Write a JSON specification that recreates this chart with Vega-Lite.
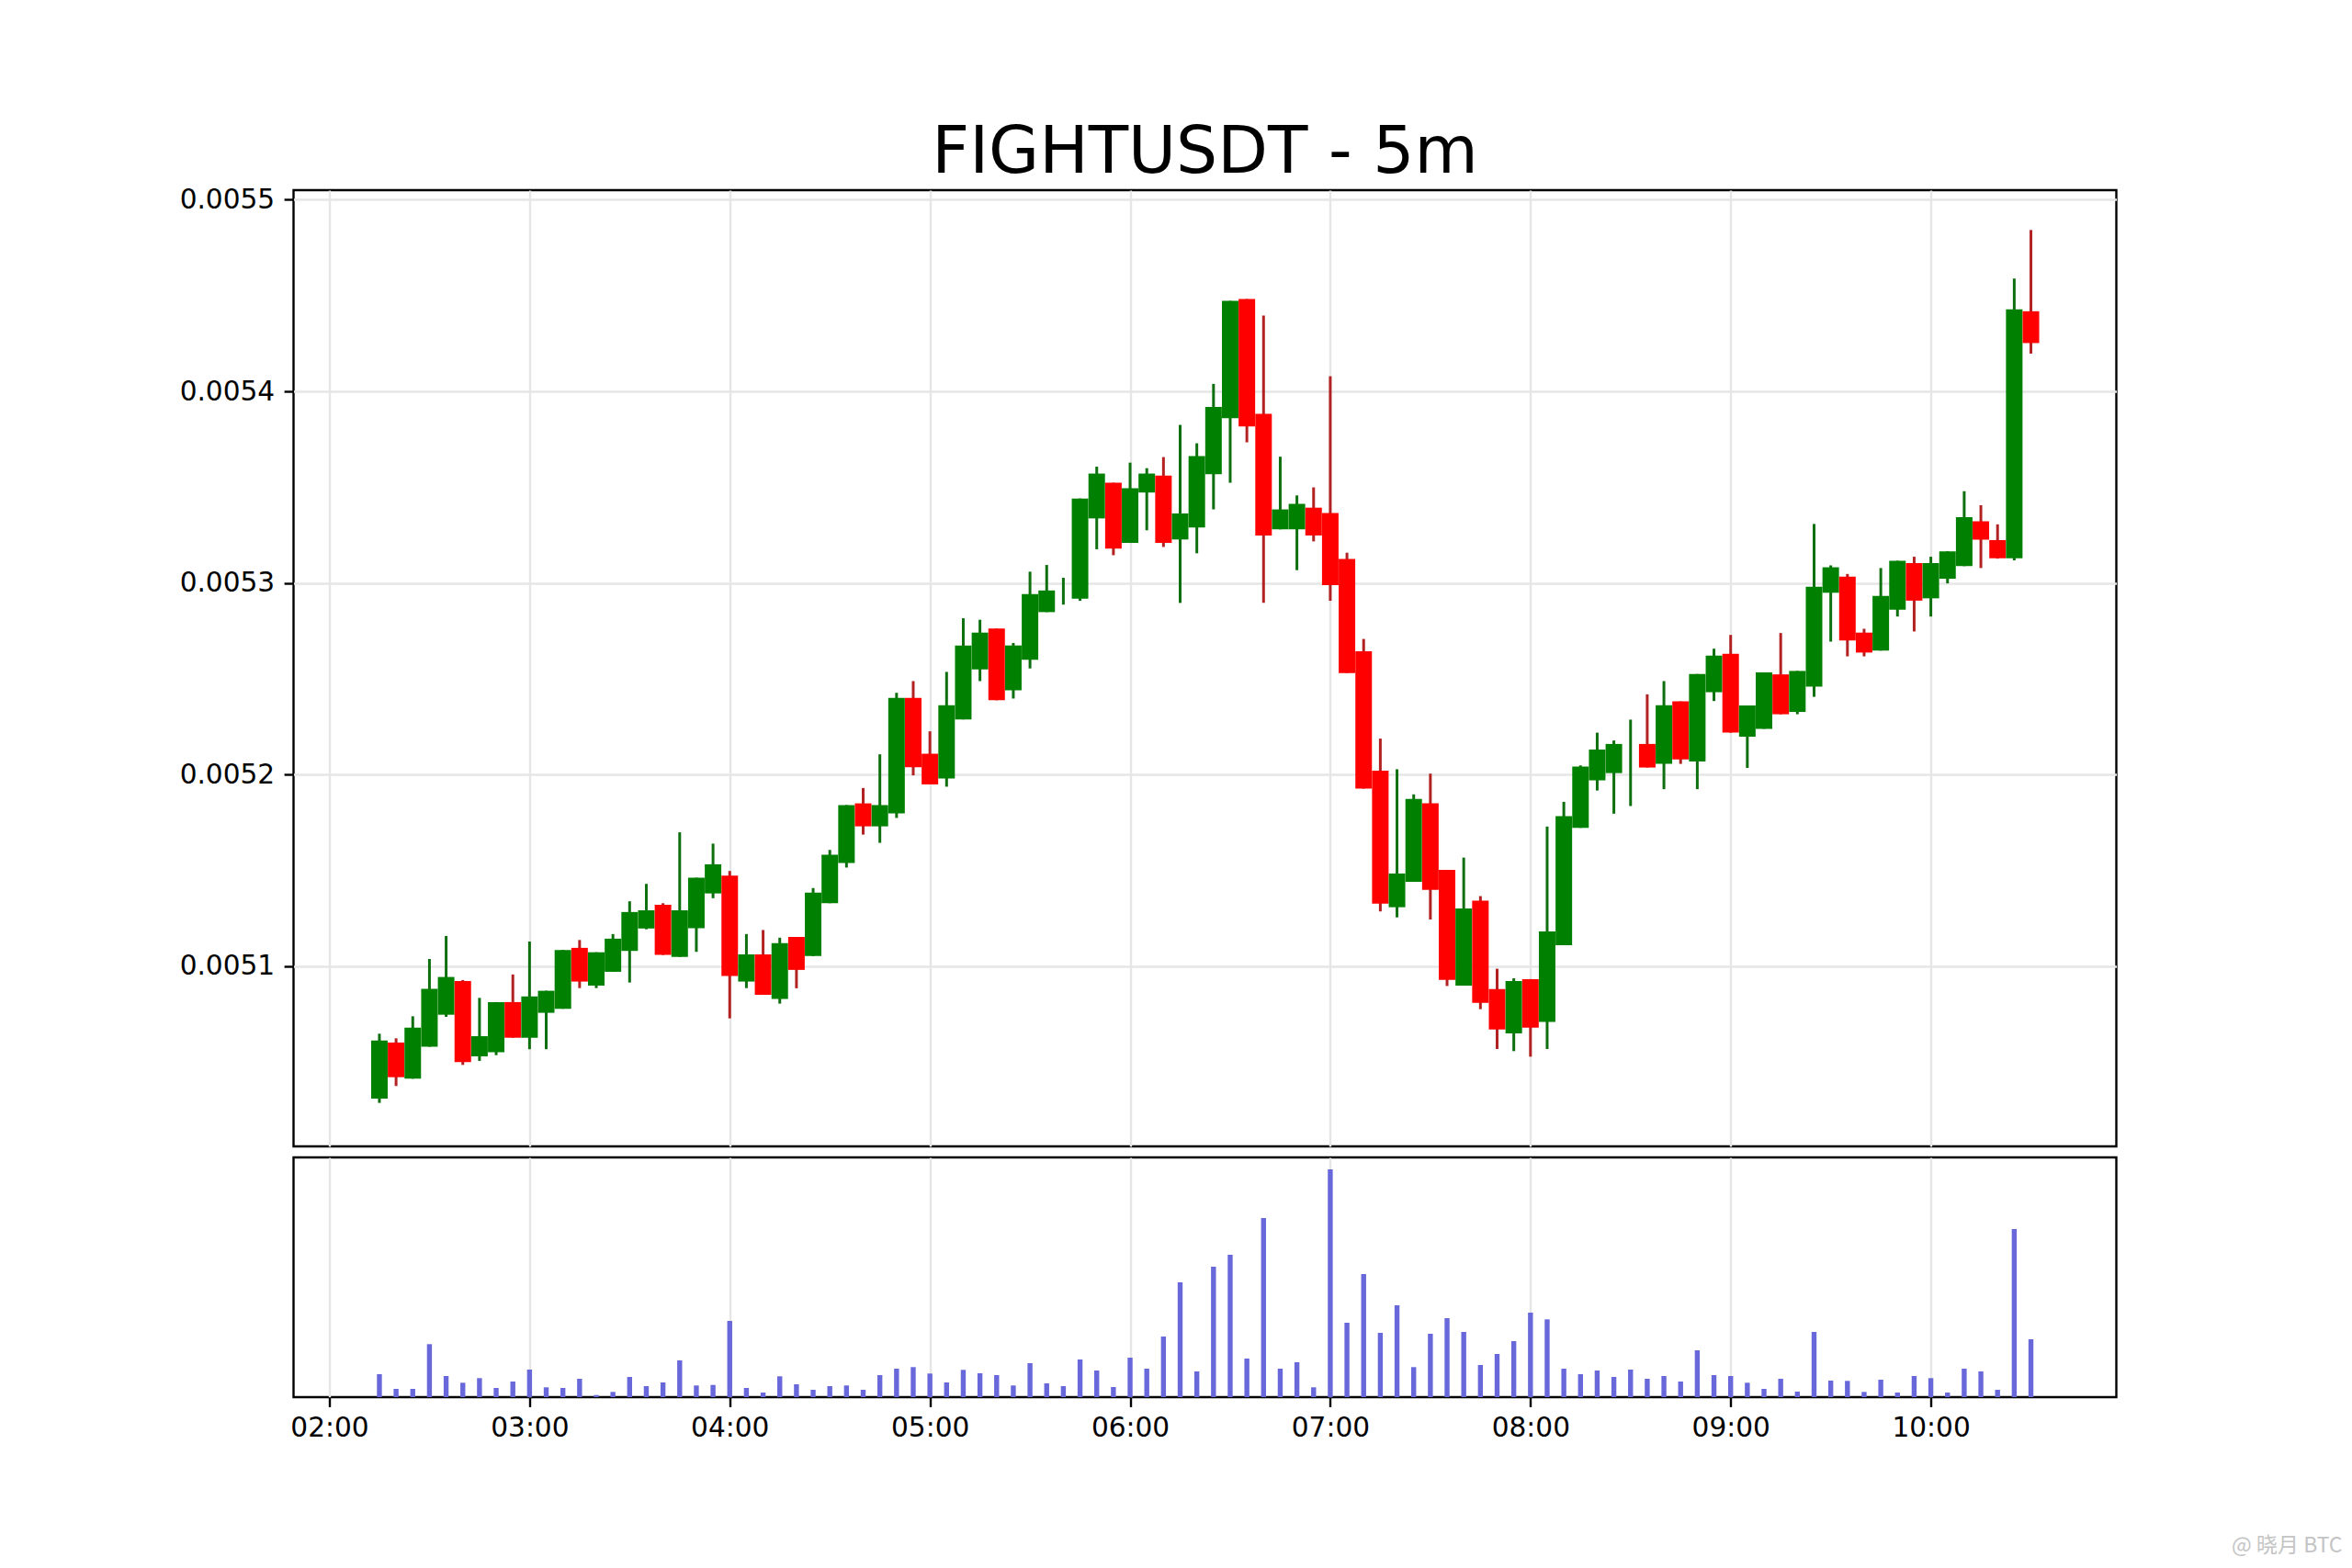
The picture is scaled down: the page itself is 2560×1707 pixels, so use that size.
{"$schema":"https://vega.github.io/schema/vega-lite/v6.json","background":"white","padding":{"left":193.5,"top":129,"right":0,"bottom":0},"config":{"view":{"stroke":"black","strokeWidth":2.4}},"spacing":8,"datasets":{"candles":[
{"time":"2024-01-01T02:15:00","open":0.0050309,"high":0.0050648,"low":0.0050287,"close":0.0050613,"volume":25,"dir":"up"},
{"time":"2024-01-01T02:20:00","open":0.0050602,"high":0.0050624,"low":0.0050375,"close":0.0050421,"volume":9,"dir":"down"},
{"time":"2024-01-01T02:25:00","open":0.0050413,"high":0.0050739,"low":0.0050413,"close":0.005068,"volume":9,"dir":"up"},
{"time":"2024-01-01T02:30:00","open":0.005058,"high":0.0051038,"low":0.005058,"close":0.0050882,"volume":57.7,"dir":"up"},
{"time":"2024-01-01T02:35:00","open":0.0050747,"high":0.0051158,"low":0.0050736,"close":0.0050944,"volume":23,"dir":"up"},
{"time":"2024-01-01T02:40:00","open":0.0050923,"high":0.0050928,"low":0.0050485,"close":0.00505,"volume":15.7,"dir":"down"},
{"time":"2024-01-01T02:45:00","open":0.005053,"high":0.0050835,"low":0.0050506,"close":0.0050635,"volume":20.7,"dir":"up"},
{"time":"2024-01-01T02:50:00","open":0.0050551,"high":0.0050813,"low":0.0050536,"close":0.0050813,"volume":10,"dir":"up"},
{"time":"2024-01-01T02:55:00","open":0.0050813,"high":0.0050957,"low":0.0050627,"close":0.0050627,"volume":17,"dir":"down"},
{"time":"2024-01-01T03:00:00","open":0.0050627,"high":0.0051129,"low":0.0050567,"close":0.0050842,"volume":30,"dir":"up"},
{"time":"2024-01-01T03:05:00","open":0.0050757,"high":0.0050872,"low":0.0050567,"close":0.0050872,"volume":10.7,"dir":"up"},
{"time":"2024-01-01T03:10:00","open":0.0050778,"high":0.0051085,"low":0.0050778,"close":0.0051085,"volume":10,"dir":"up"},
{"time":"2024-01-01T03:15:00","open":0.0051096,"high":0.0051137,"low":0.0050886,"close":0.005092,"volume":20,"dir":"down"},
{"time":"2024-01-01T03:20:00","open":0.0050899,"high":0.0051073,"low":0.0050886,"close":0.0051073,"volume":2.3,"dir":"up"},
{"time":"2024-01-01T03:25:00","open":0.0050971,"high":0.0051168,"low":0.0050971,"close":0.0051144,"volume":5.7,"dir":"up"},
{"time":"2024-01-01T03:30:00","open":0.005108,"high":0.0051339,"low":0.0050915,"close":0.0051283,"volume":22,"dir":"up"},
{"time":"2024-01-01T03:35:00","open":0.0051197,"high":0.005143,"low":0.0051193,"close":0.0051292,"volume":12,"dir":"up"},
{"time":"2024-01-01T03:40:00","open":0.0051321,"high":0.0051329,"low":0.0051059,"close":0.0051059,"volume":16,"dir":"down"},
{"time":"2024-01-01T03:45:00","open":0.0051049,"high":0.0051699,"low":0.0051049,"close":0.0051292,"volume":40,"dir":"up"},
{"time":"2024-01-01T03:50:00","open":0.0051198,"high":0.0051462,"low":0.0051075,"close":0.0051462,"volume":12.7,"dir":"up"},
{"time":"2024-01-01T03:55:00","open":0.005138,"high":0.005164,"low":0.0051355,"close":0.0051532,"volume":13.3,"dir":"up"},
{"time":"2024-01-01T04:00:00","open":0.0051473,"high":0.0051497,"low":0.0050728,"close":0.0050949,"volume":83,"dir":"down"},
{"time":"2024-01-01T04:05:00","open":0.005092,"high":0.0051168,"low":0.0050886,"close":0.0051062,"volume":10,"dir":"up"},
{"time":"2024-01-01T04:10:00","open":0.0051062,"high":0.0051189,"low":0.0050851,"close":0.0050851,"volume":5,"dir":"down"},
{"time":"2024-01-01T04:15:00","open":0.0050829,"high":0.0051149,"low":0.0050805,"close":0.0051121,"volume":22.7,"dir":"up"},
{"time":"2024-01-01T04:20:00","open":0.0051153,"high":0.0051153,"low":0.0050885,"close":0.0050981,"volume":14,"dir":"down"},
{"time":"2024-01-01T04:25:00","open":0.0051053,"high":0.0051408,"low":0.0051053,"close":0.0051384,"volume":8,"dir":"up"},
{"time":"2024-01-01T04:30:00","open":0.0051329,"high":0.0051607,"low":0.0051329,"close":0.0051582,"volume":12,"dir":"up"},
{"time":"2024-01-01T04:35:00","open":0.0051539,"high":0.0051841,"low":0.0051515,"close":0.0051841,"volume":12.7,"dir":"up"},
{"time":"2024-01-01T04:40:00","open":0.005185,"high":0.005193,"low":0.0051687,"close":0.005173,"volume":8,"dir":"down"},
{"time":"2024-01-01T04:45:00","open":0.005173,"high":0.0052106,"low":0.0051644,"close":0.0051841,"volume":24,"dir":"up"},
{"time":"2024-01-01T04:50:00","open":0.0051798,"high":0.0052427,"low":0.0051774,"close":0.00524,"volume":31,"dir":"up"},
{"time":"2024-01-01T04:55:00","open":0.00524,"high":0.0052488,"low":0.0051996,"close":0.0052039,"volume":32.7,"dir":"down"},
{"time":"2024-01-01T05:00:00","open":0.0052109,"high":0.0052226,"low":0.0051949,"close":0.0051949,"volume":25.7,"dir":"down"},
{"time":"2024-01-01T05:05:00","open":0.005198,"high":0.0052536,"low":0.0051937,"close":0.0052362,"volume":16,"dir":"up"},
{"time":"2024-01-01T05:10:00","open":0.0052288,"high":0.0052816,"low":0.0052288,"close":0.0052674,"volume":29.7,"dir":"up"},
{"time":"2024-01-01T05:15:00","open":0.0052549,"high":0.0052808,"low":0.0052488,"close":0.0052741,"volume":26,"dir":"up"},
{"time":"2024-01-01T05:20:00","open":0.0052762,"high":0.0052762,"low":0.0052388,"close":0.0052388,"volume":24,"dir":"down"},
{"time":"2024-01-01T05:25:00","open":0.005244,"high":0.0052687,"low":0.0052397,"close":0.0052674,"volume":12.7,"dir":"up"},
{"time":"2024-01-01T05:30:00","open":0.0052599,"high":0.0053059,"low":0.0052554,"close":0.0052942,"volume":37,"dir":"up"},
{"time":"2024-01-01T05:35:00","open":0.0052848,"high":0.0053094,"low":0.0052848,"close":0.0052961,"volume":15,"dir":"up"},
{"time":"2024-01-01T05:40:00","open":0.005295,"high":0.0053027,"low":0.0052887,"close":0.005295,"volume":12,"dir":"up"},
{"time":"2024-01-01T05:45:00","open":0.0052918,"high":0.0053441,"low":0.0052907,"close":0.0053441,"volume":41,"dir":"up"},
{"time":"2024-01-01T05:50:00","open":0.0053337,"high":0.0053607,"low":0.0053176,"close":0.0053571,"volume":29,"dir":"up"},
{"time":"2024-01-01T05:55:00","open":0.0053523,"high":0.0053523,"low":0.0053145,"close":0.0053179,"volume":11,"dir":"down"},
{"time":"2024-01-01T06:00:00","open":0.0053209,"high":0.0053628,"low":0.0053209,"close":0.0053494,"volume":43,"dir":"up"},
{"time":"2024-01-01T06:05:00","open":0.0053472,"high":0.0053599,"low":0.0053275,"close":0.0053571,"volume":31,"dir":"up"},
{"time":"2024-01-01T06:10:00","open":0.0053561,"high":0.0053657,"low":0.0053188,"close":0.0053209,"volume":66,"dir":"down"},
{"time":"2024-01-01T06:15:00","open":0.0053227,"high":0.0053825,"low":0.0052896,"close":0.0053363,"volume":125,"dir":"up"},
{"time":"2024-01-01T06:20:00","open":0.0053289,"high":0.0053729,"low":0.0053155,"close":0.0053662,"volume":28,"dir":"up"},
{"time":"2024-01-01T06:25:00","open":0.0053568,"high":0.0054039,"low":0.0053384,"close":0.0053919,"volume":142,"dir":"up"},
{"time":"2024-01-01T06:30:00","open":0.005386,"high":0.0054472,"low":0.0053523,"close":0.0054472,"volume":155,"dir":"up"},
{"time":"2024-01-01T06:35:00","open":0.0054482,"high":0.0054482,"low":0.0053734,"close":0.0053817,"volume":42,"dir":"down"},
{"time":"2024-01-01T06:40:00","open":0.0053883,"high":0.0054396,"low":0.0052896,"close":0.0053248,"volume":195,"dir":"down"},
{"time":"2024-01-01T06:45:00","open":0.005328,"high":0.0053659,"low":0.005328,"close":0.0053384,"volume":31,"dir":"up"},
{"time":"2024-01-01T06:50:00","open":0.005328,"high":0.0053457,"low":0.0053067,"close":0.0053413,"volume":38,"dir":"up"},
{"time":"2024-01-01T06:55:00","open":0.0053393,"high":0.0053499,"low":0.0053217,"close":0.0053248,"volume":10.7,"dir":"down"},
{"time":"2024-01-01T07:00:00","open":0.0053365,"high":0.0054079,"low":0.0052907,"close":0.0052989,"volume":248,"dir":"down"},
{"time":"2024-01-01T07:05:00","open":0.0053125,"high":0.0053158,"low":0.005253,"close":0.005253,"volume":81,"dir":"down"},
{"time":"2024-01-01T07:10:00","open":0.0052644,"high":0.0052708,"low":0.0051927,"close":0.0051927,"volume":134,"dir":"down"},
{"time":"2024-01-01T07:15:00","open":0.0052021,"high":0.0052188,"low":0.0051286,"close":0.0051327,"volume":70,"dir":"down"},
{"time":"2024-01-01T07:20:00","open":0.0051308,"high":0.0052028,"low":0.0051255,"close":0.0051484,"volume":100,"dir":"up"},
{"time":"2024-01-01T07:25:00","open":0.0051441,"high":0.0051897,"low":0.0051441,"close":0.0051873,"volume":32.7,"dir":"up"},
{"time":"2024-01-01T07:30:00","open":0.005185,"high":0.0052005,"low":0.0051244,"close":0.0051399,"volume":69,"dir":"down"},
{"time":"2024-01-01T07:35:00","open":0.0051503,"high":0.0051503,"low":0.0050897,"close":0.0050929,"volume":86,"dir":"down"},
{"time":"2024-01-01T07:40:00","open":0.0050899,"high":0.0051567,"low":0.0050899,"close":0.0051302,"volume":71,"dir":"up"},
{"time":"2024-01-01T07:45:00","open":0.0051342,"high":0.0051366,"low":0.0050776,"close":0.0050809,"volume":35,"dir":"down"},
{"time":"2024-01-01T07:50:00","open":0.0050881,"high":0.0050987,"low":0.0050568,"close":0.005067,"volume":47,"dir":"down"},
{"time":"2024-01-01T07:55:00","open":0.005065,"high":0.0050937,"low":0.0050557,"close":0.0050923,"volume":61,"dir":"up"},
{"time":"2024-01-01T08:00:00","open":0.0050933,"high":0.0050933,"low":0.0050528,"close":0.005068,"volume":92,"dir":"down"},
{"time":"2024-01-01T08:05:00","open":0.0050709,"high":0.0051729,"low":0.0050568,"close":0.0051182,"volume":84.7,"dir":"up"},
{"time":"2024-01-01T08:10:00","open":0.005111,"high":0.0051858,"low":0.005111,"close":0.0051783,"volume":31,"dir":"up"},
{"time":"2024-01-01T08:15:00","open":0.0051722,"high":0.0052048,"low":0.0051722,"close":0.0052042,"volume":25,"dir":"up"},
{"time":"2024-01-01T08:20:00","open":0.005197,"high":0.0052219,"low":0.0051917,"close":0.0052131,"volume":29,"dir":"up"},
{"time":"2024-01-01T08:25:00","open":0.0052008,"high":0.0052178,"low":0.0051796,"close":0.005216,"volume":22,"dir":"up"},
{"time":"2024-01-01T08:30:00","open":0.005206,"high":0.0052287,"low":0.0051836,"close":0.005206,"volume":30,"dir":"up"},
{"time":"2024-01-01T08:35:00","open":0.005216,"high":0.0052419,"low":0.0052037,"close":0.0052037,"volume":20,"dir":"down"},
{"time":"2024-01-01T08:40:00","open":0.0052056,"high":0.0052488,"low":0.0051924,"close":0.0052362,"volume":23,"dir":"up"},
{"time":"2024-01-01T08:45:00","open":0.0052382,"high":0.0052382,"low":0.0052056,"close":0.0052079,"volume":17,"dir":"down"},
{"time":"2024-01-01T08:50:00","open":0.0052069,"high":0.0052525,"low":0.0051924,"close":0.0052525,"volume":51,"dir":"up"},
{"time":"2024-01-01T08:55:00","open":0.005243,"high":0.0052657,"low":0.0052384,"close":0.0052621,"volume":24,"dir":"up"},
{"time":"2024-01-01T09:00:00","open":0.0052631,"high":0.0052729,"low":0.0052219,"close":0.0052219,"volume":23,"dir":"down"},
{"time":"2024-01-01T09:05:00","open":0.0052198,"high":0.0052361,"low":0.0052035,"close":0.0052361,"volume":15.7,"dir":"up"},
{"time":"2024-01-01T09:10:00","open":0.0052239,"high":0.0052533,"low":0.0052239,"close":0.0052533,"volume":9,"dir":"up"},
{"time":"2024-01-01T09:15:00","open":0.0052523,"high":0.0052739,"low":0.0052315,"close":0.0052315,"volume":20,"dir":"down"},
{"time":"2024-01-01T09:20:00","open":0.0052327,"high":0.0052541,"low":0.0052315,"close":0.0052541,"volume":6,"dir":"up"},
{"time":"2024-01-01T09:25:00","open":0.0052459,"high":0.0053308,"low":0.0052406,"close":0.005298,"volume":71,"dir":"up"},
{"time":"2024-01-01T09:30:00","open":0.0052949,"high":0.0053092,"low":0.0052694,"close":0.0053082,"volume":18,"dir":"up"},
{"time":"2024-01-01T09:35:00","open":0.0053033,"high":0.0053047,"low":0.0052617,"close":0.00527,"volume":17.7,"dir":"down"},
{"time":"2024-01-01T09:40:00","open":0.0052741,"high":0.0052761,"low":0.0052617,"close":0.0052637,"volume":5.7,"dir":"down"},
{"time":"2024-01-01T09:45:00","open":0.0052647,"high":0.0053078,"low":0.0052647,"close":0.0052933,"volume":19,"dir":"up"},
{"time":"2024-01-01T09:50:00","open":0.0052861,"high":0.0053116,"low":0.0052825,"close":0.0053116,"volume":5,"dir":"up"},
{"time":"2024-01-01T09:55:00","open":0.0053104,"high":0.0053137,"low":0.0052747,"close":0.0052908,"volume":23,"dir":"down"},
{"time":"2024-01-01T10:00:00","open":0.005292,"high":0.0053137,"low":0.0052825,"close":0.0053104,"volume":20.7,"dir":"up"},
{"time":"2024-01-01T10:05:00","open":0.0053022,"high":0.0053165,"low":0.0052998,"close":0.0053165,"volume":5,"dir":"up"},
{"time":"2024-01-01T10:10:00","open":0.0053088,"high":0.0053479,"low":0.0053088,"close":0.0053343,"volume":31,"dir":"up"},
{"time":"2024-01-01T10:15:00","open":0.0053322,"high":0.0053406,"low":0.0053078,"close":0.0053226,"volume":28,"dir":"down"},
{"time":"2024-01-01T10:20:00","open":0.0053224,"high":0.0053306,"low":0.0053127,"close":0.0053129,"volume":8,"dir":"down"},
{"time":"2024-01-01T10:25:00","open":0.0053129,"high":0.0054589,"low":0.0053118,"close":0.0054428,"volume":183,"dir":"up"},
{"time":"2024-01-01T10:30:00","open":0.0054418,"high":0.0054842,"low":0.0054197,"close":0.0054252,"volume":63,"dir":"down"}
]},"vconcat":[
{"width":1984,"height":1041,"title":{"text":"FIGHTUSDT - 5m","font":"DejaVu Sans","fontSize":71.1,"fontWeight":"normal","color":"black","anchor":"middle","offset":-0.5},"data":{"name":"candles"},
"encoding":{"x":{"field":"time","type":"temporal","title":null,"scale":{"nice":false,"padding":0,"domain":[{"year":2024,"month":1,"date":1,"hours":1,"minutes":49,"seconds":16},{"year":2024,"month":1,"date":1,"hours":10,"minutes":55,"seconds":36}]},"axis":{"tickCount":"hour","labels":false,"ticks":false,"domain":false,"grid":true,"gridColor":"#e6e6e6","gridWidth":2.4}}},
"layer":[
{"mark":{"type":"rule","strokeWidth":3},"encoding":{"y":{"field":"low","type":"quantitative","title":null,"scale":{"domain":[0.005006,0.005505],"zero":false,"nice":false},"axis":{"values":[0.0051,0.0052,0.0053,0.0054,0.0055],"format":".4f","labelFont":"DejaVu Sans","labelFontSize":29.6,"labelColor":"black","labelPadding":10.4,"tickSize":10.4,"tickWidth":2.4,"tickColor":"black","domain":false,"grid":true,"gridColor":"#e6e6e6","gridWidth":2.4}},"y2":{"field":"high"},"color":{"field":"dir","type":"nominal","legend":null,"scale":{"domain":["up","down"],"range":["#0e6f0e","#b22222"]}}}},
{"mark":{"type":"bar","size":18},"encoding":{"y":{"field":"open","type":"quantitative"},"y2":{"field":"close"},"color":{"field":"dir","type":"nominal","legend":null,"scale":{"domain":["up","down"],"range":["#008000","#ff0000"]}}}}
],"resolve":{"scale":{"color":"independent"}}},
{"width":1984,"height":261,"title":{"text":"@ 晓月 BTC","orient":"bottom","anchor":"end","font":"Noto Sans CJK SC","fontSize":23,"fontWeight":"normal","color":"#c4c4c4","dx":246,"offset":103},"data":{"name":"candles"},
"mark":{"type":"bar","size":5.4,"color":"#6868da"},
"encoding":{"x":{"field":"time","type":"temporal","title":null,"scale":{"nice":false,"padding":0,"domain":[{"year":2024,"month":1,"date":1,"hours":1,"minutes":49,"seconds":16},{"year":2024,"month":1,"date":1,"hours":10,"minutes":55,"seconds":36}]},"axis":{"tickCount":"hour","format":"%H:%M","labelFont":"DejaVu Sans","labelFontSize":29.6,"labelColor":"black","labelPadding":9,"labelFlush":false,"tickSize":10.4,"tickWidth":2.4,"tickColor":"black","domain":false,"grid":true,"gridColor":"#e6e6e6","gridWidth":2.4}},"y":{"field":"volume","type":"quantitative","title":null,"scale":{"domain":[0,261],"nice":false},"axis":null}}}
]}
